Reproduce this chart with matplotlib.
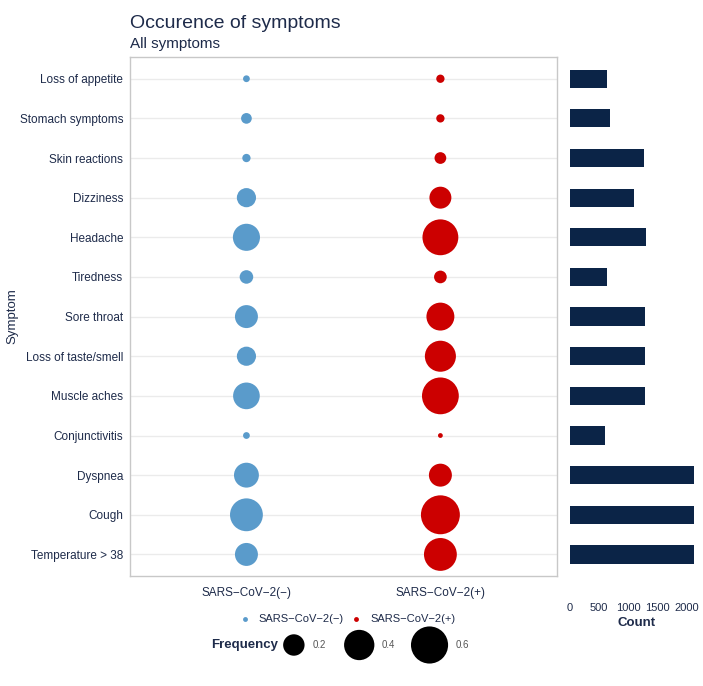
import matplotlib
matplotlib.use("Agg")
import matplotlib.pyplot as plt
from matplotlib.lines import Line2D

plt.rcParams["font.family"] = ["Liberation Sans", "DejaVu Sans"]

# ── Data ──────────────────────────────────────────────────────────────────────
symptoms = [
    "Loss of appetite", "Stomach symptoms", "Skin reactions", "Dizziness",
    "Headache", "Tiredness", "Sore throat", "Loss of taste/smell",
    "Muscle aches", "Conjunctivitis", "Dyspnea", "Cough", "Temperature > 38",
]
groups = ["SARS\u2212CoV\u22122(\u2212)", "SARS\u2212CoV\u22122(+)"]
freq_neg = [0.02, 0.05, 0.03, 0.16, 0.32, 0.08, 0.23, 0.16, 0.31, 0.02, 0.27, 0.47, 0.23]
freq_pos = [0.03, 0.03, 0.06, 0.21, 0.56, 0.07, 0.34, 0.42, 0.59, 0.01, 0.23, 0.66, 0.47]
counts = [640, 690, 1275, 1100, 1300, 630, 1285, 1285, 1285, 600, 2130, 2130, 2130]
count_ticks = [0, 500, 1000, 1500, 2000]
size_breaks = [0.2, 0.4, 0.6]

# ── Style ─────────────────────────────────────────────────────────────────────
BLUE = "#5a9bcb"
RED = "#cc0000"
NAVY = "#0b2447"
TEXT = "#1e2b4a"
SIZE_K = 1190  # points^2 per unit frequency

fig = plt.figure(figsize=(7.03, 6.86), dpi=100)
fig.patch.set_facecolor("white")

ax = fig.add_axes([0.185, 0.160, 0.607, 0.757])
axb = fig.add_axes([0.811, 0.160, 0.189, 0.757])

ypos = list(range(len(symptoms)))
for y in ypos:
    ax.axhline(y, color="#ebebeb", linewidth=1.0, zorder=0)

ax.scatter([0] * len(symptoms), ypos, s=[SIZE_K * f for f in freq_neg],
           color=BLUE, linewidths=0, zorder=3)
ax.scatter([1] * len(symptoms), ypos, s=[SIZE_K * f for f in freq_pos],
           color=RED, linewidths=0, zorder=3)

ax.set_xlim(-0.6, 1.6)
ax.set_ylim(len(symptoms) - 0.45, -0.55)
ax.set_xticks([0, 1])
ax.set_xticklabels(groups, fontsize=8.5, color=TEXT)
ax.set_yticks(ypos)
ax.set_yticklabels(symptoms, fontsize=8.5, color=TEXT)
ax.tick_params(axis="both", length=0, pad=5)
ax.tick_params(axis="x", pad=8)
for spine in ax.spines.values():
    spine.set_edgecolor("#c8c8c8")
    spine.set_linewidth(1.0)
ax.set_ylabel("Symptom", fontsize=9.5, color=TEXT)
ax.yaxis.set_label_coords(-0.262, 0.5)

fig.text(0.185, 1 - 28 / 686, "Occurence of symptoms",
         fontsize=14, color=TEXT, ha="left", va="baseline")
fig.text(0.185, 1 - 48 / 686, "All symptoms",
         fontsize=11, color=TEXT, ha="left", va="baseline")

# ── Count panel ───────────────────────────────────────────────────────────────
axb.barh(ypos, counts, height=0.46, color=NAVY)
axb.set_xlim(0, 2280)
axb.set_ylim(len(symptoms) - 0.45, -0.55)
axb.set_yticks([])
axb.set_xticks(count_ticks)
axb.set_xticklabels([str(t) for t in count_ticks], fontsize=8, color=TEXT)
axb.tick_params(axis="x", length=0, pad=19)
for spine in axb.spines.values():
    spine.set_visible(False)
axb.set_xlabel("Count", fontsize=9.5, color=TEXT, labelpad=3, fontweight="bold")

# ── Colour legend ─────────────────────────────────────────────────────────────
color_handles = [
    Line2D([], [], marker="o", linestyle="none", markersize=3.5,
           markerfacecolor=BLUE, markeredgewidth=0, label=groups[0]),
    Line2D([], [], marker="o", linestyle="none", markersize=3.5,
           markerfacecolor=RED, markeredgewidth=0, label=groups[1]),
]
fig.legend(handles=color_handles, loc="center", bbox_to_anchor=(0.494, 0.097),
           ncol=2, frameon=False, fontsize=8, labelcolor=TEXT,
           handlelength=1.0, handletextpad=0.75, columnspacing=0.6)

# ── Size legend (drawn on a full-figure overlay) ──────────────────────────────
lax = fig.add_axes([0, 0, 1, 1], facecolor="none")
lax.set_xlim(0, 1)
lax.set_ylim(0, 1)
lax.axis("off")
key_x = [0.418, 0.511, 0.611]
key_y = 1 - 645 / 686
lax.scatter(key_x, [key_y] * len(size_breaks),
            s=[SIZE_K * b for b in size_breaks], color="black", linewidths=0)
for x, b in zip(key_x, size_breaks):
    r = (SIZE_K * b) ** 0.5 / 2 / 72 / 7.03  # marker radius in figure fraction
    lax.text(x + r + 0.011, key_y, f"{b:.1f}", fontsize=7, color="#555555",
             ha="left", va="center")
lax.text(0.300, key_y, "Frequency", fontsize=9.5, fontweight="bold",
         color=TEXT, ha="left", va="center")

fig.savefig("out.png", dpi=100, facecolor="white")
